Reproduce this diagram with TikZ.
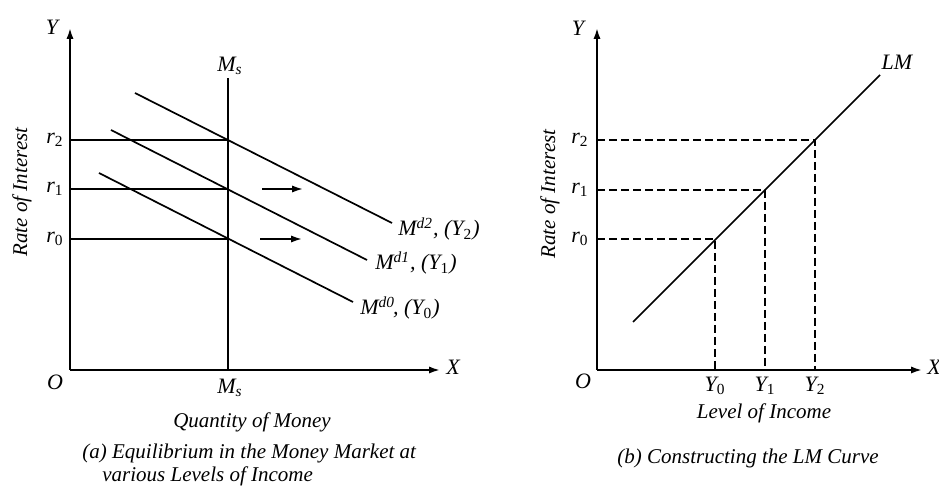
\documentclass[tikz,border=0pt]{standalone}
\usepackage{fontspec}
\setmainfont{Liberation Serif}
\usetikzlibrary{arrows.meta}
\newcommand{\sbs}[1]{\textsubscript{\upshape #1}}
\begin{document}
\begin{tikzpicture}[x=0.5pt, y=-0.5pt, >={Latex[length=5.5pt,width=3.6pt]},
    ax/.style={line width=0.95pt},
    crv/.style={line width=0.85pt},
    guide/.style={line width=0.8pt, dash pattern=on 4pt off 2pt},
    lbl/.style={font=\fontsize{11}{12}\selectfont\itshape, inner sep=1pt},
    capt/.style={font=\fontsize{10.5}{11.5}\selectfont\itshape, inner sep=1pt}]
    \useasboundingbox (0,0) rectangle (939,486);
    % (a) money market
    \coordinate (oa) at (70,370);
    \draw[ax, ->] (oa) -- (70,28) coordinate (ya);
    \draw[ax, ->] (oa) -- (440,370) coordinate (xa);
    \node[lbl] (yla) at (52,27) {Y};
    \node[lbl] (xla) at (453,367) {X};
    \node[lbl] (ola) at (55,382) {O};
    \node[capt, rotate=90] (rata) at (22,192) {Rate of Interest};
    \draw[ax] (228,370) coordinate (msb) -- (228,78) coordinate (mst);
    \node[lbl] (mstl) at (230,66) {M\textsubscript{s}};
    \node[lbl] (msbl) at (230,388) {M\textsubscript{s}};
    \foreach \i/\y in {0/239, 1/189, 2/140} {
        \node[lbl] (ra\i) at (55,\y) {r\sbs{\i}};
        \draw[crv] (70,\y) -- (228,\y);
    }
    % demand curves
    \draw[crv] (135,93) -- (392,223) coordinate (md2e);
    \draw[crv] (111,130) -- (367,260) coordinate (md1e);
    \draw[crv] (99,173) -- (353,302) coordinate (md0e);
    \node[lbl, anchor=west] (md2) at (396,229) {M\textsuperscript{d2}, (Y\sbs{2})};
    \node[lbl, anchor=west] (md1) at (373,263) {M\textsuperscript{d1}, (Y\sbs{1})};
    \node[lbl, anchor=west] (md0) at (358,308) {M\textsuperscript{d0}\kern-1pt, (Y\sbs{0})};
    \draw[crv, ->] (262,189) -- (303,189);
    \draw[crv, ->] (260,239) -- (302,239);
    \node[capt] (qm) at (252,422) {Quantity of Money};
    \node[capt, anchor=north west, align=left] (capa) at (80,442)
        {(a) Equilibrium in the Money Market at\\\hspace*{10pt}various Levels of Income};
    % (b) LM curve
    \coordinate (ob) at (597,370);
    \draw[ax, ->] (ob) -- (597,28) coordinate (yb);
    \draw[ax, ->] (ob) -- (922,370) coordinate (xb);
    \node[lbl] (ylb) at (578,28) {Y};
    \node[lbl, anchor=west] (xlb) at (925,367) {X};
    \node[lbl] (olb) at (583,381) {O};
    \node[capt, rotate=90] (ratb) at (550,194) {Rate of Interest};
    \foreach \i/\x/\y in {0/715/239, 1/765/190, 2/815/140} {
        \node[lbl] (rb\i) at (580,\y) {r\sbs{\i}};
        \draw[guide] (597,\y) -- (\x,\y) -- (\x,370);
        \node[lbl] (yb\i) at (\x,386) {Y\sbs{\i}};
    }
    \draw[crv] (633,322) -- (880,75);
    \node[lbl] (lm) at (897,62) {LM};
    \node[capt] (loi) at (764,413) {Level of Income};
    \node[capt] (capb) at (748,458) {(b) Constructing the LM Curve};
\end{tikzpicture}
\end{document}
